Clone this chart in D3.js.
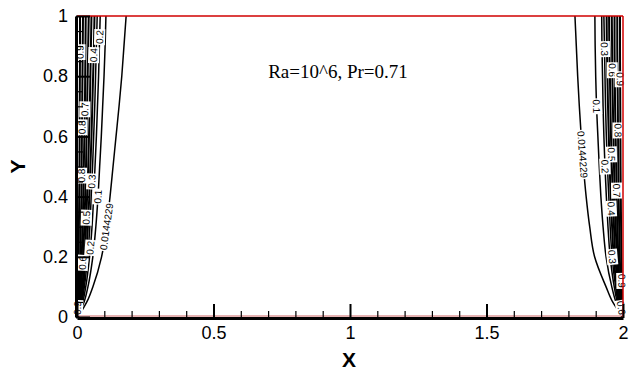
<!DOCTYPE html>
<html>
<head>
<meta charset="utf-8">
<script src="https://cdn.jsdelivr.net/npm/d3@7"></script>
<style>
  body { margin: 0; background: #fff; }
</style>
</head>
<body>
<div id="chart"></div>
<script>
const ySamples = [0, 0.02, 0.05, 0.1, 0.2, 0.3, 0.4, 0.5, 0.6, 0.7, 0.8, 0.9, 1];
const levelNames = ["0.0144229", "0.1", "0.2", "0.3", "0.4", "0.5", "0.6", "0.7", "0.8", "0.9"];

// distance of each contour from the left wall (x = 0)
const leftGap = [
  [0.005, 0.017, 0.036, 0.058, 0.090, 0.108, 0.121, 0.132, 0.143, 0.154, 0.164, 0.172, 0.180],
  [0.003, 0.012, 0.026, 0.040, 0.058, 0.069, 0.077, 0.083, 0.089, 0.094, 0.099, 0.103, 0.106],
  [0.002, 0.010, 0.021, 0.032, 0.046, 0.055, 0.061, 0.066, 0.071, 0.075, 0.079, 0.082, 0.085],
  [0.002, 0.008, 0.018, 0.027, 0.039, 0.047, 0.052, 0.057, 0.061, 0.065, 0.068, 0.071, 0.074],
  [0.002, 0.007, 0.015, 0.023, 0.033, 0.040, 0.045, 0.049, 0.053, 0.056, 0.059, 0.062, 0.064],
  [0.001, 0.006, 0.012, 0.019, 0.028, 0.033, 0.037, 0.041, 0.044, 0.047, 0.049, 0.051, 0.053],
  [0.001, 0.005, 0.010, 0.015, 0.022, 0.027, 0.030, 0.033, 0.035, 0.037, 0.039, 0.041, 0.043],
  [0.001, 0.004, 0.008, 0.012, 0.017, 0.021, 0.023, 0.025, 0.027, 0.029, 0.030, 0.031, 0.032],
  [0.001, 0.003, 0.006, 0.008, 0.012, 0.014, 0.016, 0.017, 0.018, 0.019, 0.020, 0.021, 0.022],
  [0.0005, 0.0015, 0.003, 0.004, 0.006, 0.007, 0.008, 0.009, 0.0095, 0.010, 0.0105, 0.011, 0.011]
];

// distance of each contour from the right wall (x = 2)
const rightGap = [
  [0.004, 0.017, 0.038, 0.062, 0.104, 0.122, 0.135, 0.145, 0.153, 0.160, 0.166, 0.171, 0.176],
  [0.003, 0.012, 0.026, 0.041, 0.062, 0.073, 0.081, 0.087, 0.092, 0.097, 0.100, 0.102, 0.103],
  [0.002, 0.010, 0.021, 0.032, 0.047, 0.055, 0.061, 0.066, 0.070, 0.073, 0.075, 0.077, 0.078],
  [0.002, 0.008, 0.018, 0.027, 0.040, 0.047, 0.052, 0.057, 0.061, 0.064, 0.066, 0.068, 0.070],
  [0.002, 0.007, 0.015, 0.023, 0.034, 0.040, 0.045, 0.049, 0.052, 0.055, 0.057, 0.059, 0.060],
  [0.001, 0.006, 0.012, 0.019, 0.028, 0.033, 0.037, 0.041, 0.044, 0.046, 0.048, 0.050, 0.051],
  [0.001, 0.005, 0.010, 0.015, 0.022, 0.027, 0.030, 0.033, 0.035, 0.037, 0.039, 0.040, 0.041],
  [0.001, 0.004, 0.008, 0.012, 0.017, 0.021, 0.023, 0.025, 0.027, 0.029, 0.030, 0.031, 0.031],
  [0.001, 0.003, 0.006, 0.008, 0.012, 0.014, 0.016, 0.017, 0.018, 0.019, 0.020, 0.021, 0.021],
  [0.0005, 0.0015, 0.003, 0.004, 0.006, 0.007, 0.008, 0.009, 0.0095, 0.010, 0.0105, 0.011, 0.011]
];

// contour labels: [level index, y]
const leftLabels = [[0, 0.30], [1, 0.40], [2, 0.93], [2, 0.23], [3, 0.45], [4, 0.87],
  [5, 0.33], [7, 0.69], [8, 0.47], [8, 0.63], [9, 0.88], [6, 0.18], [9, 0.03]];
const rightLabels = [[0, 0.54], [1, 0.70], [3, 0.89], [6, 0.82], [9, 0.79], [8, 0.62],
  [5, 0.54], [2, 0.50], [7, 0.42], [4, 0.36], [3, 0.20], [9, 0.12], [6, 0.03]];

const xTicks = [0, 0.5, 1, 1.5, 2];
const xMinor = [0.1, 0.2, 0.3, 0.4, 0.6, 0.7, 0.8, 0.9, 1.1, 1.2, 1.3, 1.4, 1.6, 1.7, 1.8, 1.9];
const yTicks = [0, 0.2, 0.4, 0.6, 0.8, 1];
const yMinor = [0.05, 0.1, 0.15, 0.25, 0.3, 0.35, 0.45, 0.5, 0.55, 0.65, 0.7, 0.75, 0.85, 0.9, 0.95];
const title = "Ra=10^6, Pr=0.71";

const W = 635, H = 374;
const x = d3.scaleLinear().domain([0, 2]).range([77, 623]);
const y = d3.scaleLinear().domain([0, 1]).range([317, 16]);

const svg = d3.select("#chart").append("svg")
  .attr("width", W)
  .attr("height", H)
  .attr("font-family", "'Liberation Sans', Arial, sans-serif");

//
const lineGen = d3.line()
  .curve(d3.curveMonotoneY)
  .x(d => x(d[0]))
  .y(d => y(d[1]));

const sides = [
  { gaps: leftGap, labels: leftLabels, toX: g => g, dir: -1 },
  { gaps: rightGap, labels: rightLabels, toX: g => 2 - g, dir: 1 }
];

const contours = svg.append("g").attr("class", "contours");
sides.forEach(s => {
  s.gaps.forEach((row, li) => {
    const pts = row.map((g, i) => [s.toX(g), ySamples[i]]);
    contours.append("path")
      .attr("d", lineGen(pts))
      .attr("fill", "none")
      .attr("stroke", "#000")
      .attr("stroke-width", li < 4 ? 1.5 : 2);
  });
});

// labels with white boxes, turned along the line
const labelG = svg.append("g").attr("class", "labels")
  .attr("font-size", 10);
sides.forEach(s => {
  s.labels.forEach(([li, yv]) => {
    const gx = d3.scaleLinear().domain(ySamples).range(s.gaps[li]);
    const px = x(s.toX(gx(yv))), py = y(yv);
    const xa = x(s.toX(gx(Math.max(0, yv - 0.03)))), ya = y(Math.max(0, yv - 0.03));
    const xb = x(s.toX(gx(Math.min(1, yv + 0.03)))), yb = y(Math.min(1, yv + 0.03));
    let ang = s.dir < 0
      ? Math.atan2(yb - ya, xb - xa)
      : Math.atan2(ya - yb, xa - xb);
    ang = ang * 180 / Math.PI;
    const g = labelG.append("g")
      .attr("transform", `translate(${px},${py}) rotate(${ang})`);
    const t = g.append("text")
      .attr("text-anchor", "middle")
      .attr("dy", "0.35em")
      .text(levelNames[li]);
    const w = t.node().getComputedTextLength();
    g.insert("rect", "text")
      .attr("x", -w / 2 - 1)
      .attr("y", -5.5)
      .attr("width", w + 2)
      .attr("height", 11)
      .attr("fill", "#fff");
  });
});

// walls
svg.append("line")
  .attr("x1", x(0)).attr("x2", x(2))
  .attr("y1", y(1)).attr("y2", y(1))
  .attr("stroke", "#d00000").attr("stroke-width", 1.5);
svg.append("line")
  .attr("x1", x(2)).attr("x2", x(2))
  .attr("y1", y(1)).attr("y2", y(0))
  .attr("stroke", "#d00000").attr("stroke-width", 1.5);
svg.append("line")
  .attr("x1", x(0)).attr("x2", x(2))
  .attr("y1", y(0) - 1).attr("y2", y(0) - 1)
  .attr("stroke", "#c04040").attr("stroke-width", 0.8);

//
const axes = svg.append("g").attr("class", "axes");
const ax = d3.axisBottom(x).tickValues(xTicks).tickFormat(d3.format("")).tickSizeInner(-14).tickSizeOuter(0);
const axMinor = d3.axisBottom(x).tickValues(xMinor).tickFormat("").tickSizeInner(-7).tickSizeOuter(0);
const ay = d3.axisLeft(y).tickValues(yTicks).tickFormat(d3.format("")).tickSizeInner(-14).tickSizeOuter(0);
const ayMinor = d3.axisLeft(y).tickValues(yMinor).tickFormat("").tickSizeInner(-7).tickSizeOuter(0);

const styleAxis = g => {
  g.select(".domain").attr("stroke-width", 3);
  g.selectAll(".tick line").attr("stroke-width", 2);
  g.selectAll("text").attr("font-size", 18).attr("fill", "#000")
    .attr("font-family", "'Liberation Sans', Arial, sans-serif");
};

axes.append("g").attr("transform", `translate(0,${y(0) + 1})`).call(axMinor)
  .call(g => g.select(".domain").remove())
  .call(g => g.selectAll(".tick line").attr("stroke-width", 1.2));
axes.append("g").attr("transform", `translate(0,${y(0) + 1})`).call(ax).call(styleAxis)
  .call(g => g.selectAll("text").attr("dy", "0").attr("y", 21));
axes.append("g").attr("transform", `translate(${x(0) - 1},0)`).call(ayMinor)
  .call(g => g.select(".domain").remove())
  .call(g => g.selectAll(".tick line").attr("stroke-width", 1.2));
axes.append("g").attr("transform", `translate(${x(0) - 1},0)`).call(ay).call(styleAxis)
  .call(g => g.selectAll("text").attr("x", -8));

// axis titles
svg.append("text")
  .attr("x", 349).attr("y", 367)
  .attr("text-anchor", "middle")
  .attr("font-size", 21).attr("font-weight", "bold")
  .text("X");
svg.append("text")
  .attr("transform", `translate(25,${y(0.5)}) rotate(-90)`)
  .attr("text-anchor", "middle")
  .attr("font-size", 21).attr("font-weight", "bold")
  .text("Y");

svg.append("text")
  .attr("x", 338).attr("y", 78)
  .attr("text-anchor", "middle")
  .attr("font-family", "'Liberation Serif', 'Times New Roman', serif")
  .attr("font-size", 19)
  .text(title);
</script>
</body>
</html>
